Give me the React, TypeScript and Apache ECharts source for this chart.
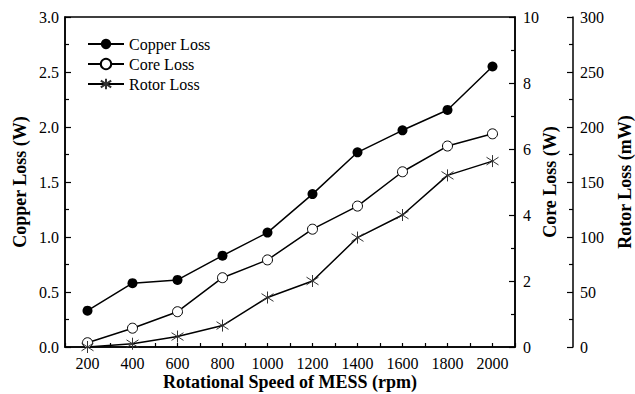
import React, { useEffect, useRef } from "react";
import * as echarts from "echarts";

const speeds = [200, 400, 600, 800, 1000, 1200, 1400, 1600, 1800, 2000];
const copperLoss = [0.33, 0.58, 0.61, 0.83, 1.04, 1.39, 1.77, 1.97, 2.155, 2.55];
const coreLoss = [0.13, 0.57, 1.07, 2.1, 2.64, 3.57, 4.27, 5.31, 6.09, 6.46];
const rotorLoss = [0, 3, 9.5, 19.5, 45, 60, 99.5, 120, 156, 169];

const FONT = "Liberation Serif";
const ASTERISK = "path://M5 0L5 10M0.8 1.8L9.2 8.2M9.2 1.8L0.8 8.2";

export default function App() {
  const ref = useRef<HTMLDivElement>(null);
  useEffect(() => {
    if (!ref.current) return;
    const chart = echarts.init(ref.current, null, { renderer: "svg" });
    const pair = (arr: number[]) => speeds.map((s, i) => [s, arr[i]]);
    const labelStyle = { color: "#000", fontFamily: FONT, fontSize: 16 };
    const nameStyle = { color: "#000", fontFamily: FONT, fontSize: 18, fontWeight: "bold" as const };
    const lineStyle = { color: "#000", width: 1.5 };
    const yCommon = {
      type: "value" as const,
      axisLine: { show: true, lineStyle: { color: "#000", width: 1.5 } },
      axisTick: { show: true, inside: true, length: 6, lineStyle: { color: "#000", width: 1.2 } },
      minorTick: { show: true, splitNumber: 2, length: 4, lineStyle: { color: "#000", width: 1.2 } },
      splitLine: { show: false },
      nameLocation: "middle" as const,
      nameRotate: 90,
      nameMoveOverlap: false,
      nameTextStyle: nameStyle,
    };
    chart.setOption({
      animation: false,
      backgroundColor: "#fff",
      textStyle: { fontFamily: FONT },
      grid: {
        left: 65,
        right: 120,
        top: 17,
        bottom: 47,
        outerBoundsMode: "none",
        containLabel: false,
        show: true,
        borderColor: "#000",
        borderWidth: 1.5,
      },
      legend: {
        orient: "vertical",
        left: 87,
        top: 36,
        padding: 0,
        itemWidth: 36,
        itemHeight: 13,
        itemGap: 4,
        textStyle: { color: "#000", fontFamily: FONT, fontSize: 16 },
        data: ["Copper Loss", "Core Loss", "Rotor Loss"],
      },
      xAxis: {
        type: "value",
        min: 100,
        max: 2100,
        interval: 100,
        name: "Rotational Speed of MESS (rpm)",
        nameLocation: "middle",
        nameGap: 26,
        nameMoveOverlap: false,
        nameTextStyle: nameStyle,
        axisLine: { show: true, lineStyle: { color: "#000", width: 1.5 } },
        axisTick: { show: true, inside: true, length: 4, lineStyle: { color: "#000", width: 1.2 } },
        splitLine: { show: false },
        axisLabel: {
          ...labelStyle,
          margin: 8,
          formatter: (v: number) => (v % 200 === 0 ? String(v) : ""),
        },
      },
      yAxis: [
        {
          ...yCommon,
          position: "left",
          min: 0,
          max: 3,
          interval: 0.5,
          name: "Copper Loss (W)",
          nameGap: 36,
          axisLabel: { ...labelStyle, margin: 6, formatter: (v: number) => v.toFixed(1) },
        },
        {
          ...yCommon,
          position: "right",
          min: 0,
          max: 10,
          interval: 2,
          name: "Core Loss (W)",
          nameGap: 26,
          axisLabel: { ...labelStyle, margin: 8 },
        },
        {
          ...yCommon,
          position: "right",
          offset: 58,
          min: 0,
          max: 300,
          interval: 50,
          name: "Rotor Loss (mW)",
          nameGap: 43,
          axisLabel: { ...labelStyle, margin: 7 },
        },
      ],
      series: [
        {
          name: "Copper Loss",
          type: "line",
          yAxisIndex: 0,
          data: pair(copperLoss),
          symbol: "circle",
          symbolSize: 10,
          lineStyle,
          itemStyle: { color: "#000" },
          z: 3,
        },
        {
          name: "Core Loss",
          type: "line",
          yAxisIndex: 1,
          data: pair(coreLoss),
          symbol: "circle",
          symbolSize: 10,
          lineStyle,
          itemStyle: { color: "#fff", borderColor: "#000", borderWidth: 1 },
          z: 3,
        },
        {
          name: "Rotor Loss",
          type: "line",
          yAxisIndex: 2,
          data: pair(rotorLoss),
          symbol: ASTERISK,
          symbolSize: 12,
          lineStyle,
          itemStyle: { color: "#333", borderColor: "#333", borderWidth: 1 },
          z: 3,
        },
      ],
    });
    return () => chart.dispose();
  }, []);
  return <div ref={ref} style={{ width: 635, height: 394, position: "absolute", left: 0, top: 0 }} />;
}
